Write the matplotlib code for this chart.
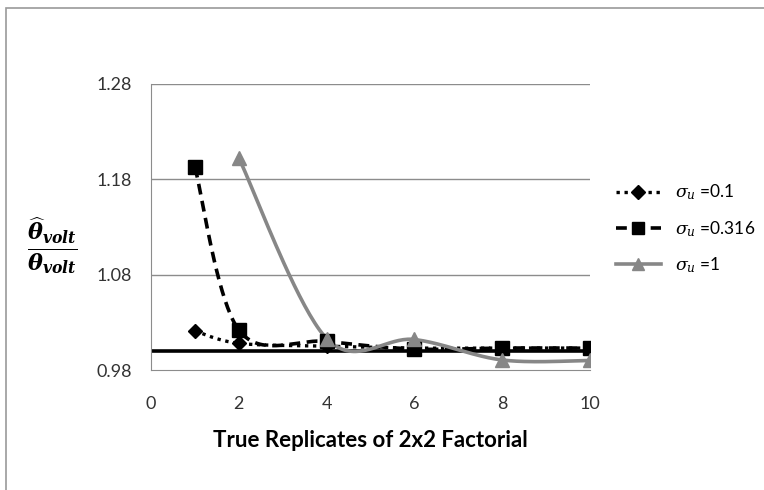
import matplotlib

matplotlib.use("Agg")

import matplotlib.pyplot as plt
import numpy as np
from matplotlib.lines import Line2D
from matplotlib.patches import Rectangle

# replicate counts and estimated ratio for each sigma_u
reps_01 = [1, 2, 4, 6, 8, 10]
ratio_01 = [1.021, 1.008, 1.005, 1.003, 1.003, 1.003]

reps_0316 = [1, 2, 4, 6, 8, 10]
ratio_0316 = [1.193, 1.022, 1.010, 1.002, 1.003, 1.003]

reps_1 = [2, 4, 6, 8, 10]
ratio_1 = [1.2025, 1.013, 1.012, 0.9905, 0.990]

x_ticks = [0, 2, 4, 6, 8, 10]
y_ticks = [0.98, 1.08, 1.18, 1.28]
reference = 1.0


def smooth(xs, ys, n=40):
    # cubic Bezier through the points, Catmull-Rom style control points
    p = np.column_stack([xs, ys]).astype(float)
    pts = np.vstack([p[0], p, p[-1]])
    out = []
    for i in range(1, len(pts) - 2):
        p0, p1, p2, p3 = pts[i - 1], pts[i], pts[i + 1], pts[i + 2]
        c1 = p1 + (p2 - p0) / 6.0
        c2 = p2 - (p3 - p1) / 6.0
        t = np.linspace(0, 1, n)[:, None]
        seg = ((1 - t) ** 3) * p1 + 3 * ((1 - t) ** 2) * t * c1 + 3 * (1 - t) * t ** 2 * c2 + t ** 3 * p2
        out.append(seg if i == 1 else seg[1:])
    curve = np.vstack(out)
    return curve[:, 0], curve[:, 1]


plt.rcParams["font.family"] = ["Lato", "DejaVu Sans"]
plt.rcParams["mathtext.fontset"] = "dejavuserif"

fig = plt.figure(figsize=(7.64, 4.90), dpi=100)
W, H = 764.0, 490.0
ax = fig.add_axes([151 / W, 1 - 370 / H, (590 - 151) / W, (370 - 84) / H])

grid_c = "#8c8c8c"
ax.set_xlim(0, 10)
ax.set_ylim(0.98, 1.28)
ax.set_xticks(x_ticks)
ax.set_yticks(y_ticks)
ax.set_yticklabels([f"{v:.2f}" for v in y_ticks])
ax.tick_params(length=0, labelsize=13, labelcolor="#333333")
ax.tick_params(axis="x", pad=19)
ax.tick_params(axis="y", pad=14)
for v in y_ticks[1:]:
    ax.axhline(v, color=grid_c, lw=1.0, zorder=1)
for side in ["top", "right"]:
    ax.spines[side].set_visible(False)
ax.spines["left"].set_color(grid_c)
ax.spines["bottom"].set_color(grid_c)

ax.axhline(reference, color="black", lw=2.6, zorder=2)

grey = "#878787"
x, y = smooth(reps_01, ratio_01)
ax.plot(x, y, color="black", lw=2.4, linestyle=(0, (1, 1.4)), zorder=3)
ax.plot(reps_01, ratio_01, linestyle="none", marker="D", ms=7, color="black", zorder=5)

x, y = smooth(reps_0316, ratio_0316)
ax.plot(x, y, color="black", lw=2.6, linestyle=(0, (3, 1.8)), zorder=3)
ax.plot(reps_0316, ratio_0316, linestyle="none", marker="s", ms=10, color="black", zorder=5)

x, y = smooth(reps_1, ratio_1)
ax.plot(x, y, color=grey, lw=2.6, zorder=4)
ax.plot(reps_1, ratio_1, linestyle="none", marker="^", ms=10, color=grey, zorder=6)

ax.set_xlabel("True Replicates of 2x2 Factorial", fontsize=16, fontweight="bold", labelpad=13)

fig.text(52 / W, 1 - 246 / H,
         r"$\frac{\widehat{\boldsymbol{\theta}}_{\boldsymbol{volt}}}{\boldsymbol{\theta}_{\boldsymbol{volt}}}$",
         fontsize=23, ha="center", va="center")

handles = [
    Line2D([], [], color="black", lw=2.4, linestyle=(0, (1, 1.4)), marker="D", ms=7),
    Line2D([], [], color="black", lw=2.6, linestyle=(0, (3, 1.8)), marker="s", ms=9),
    Line2D([], [], color=grey, lw=2.6, marker="^", ms=9),
]
labels = [r"$\sigma_u$ =0.1", r"$\sigma_u$ =0.316", r"$\sigma_u$ =1"]
fig.legend(handles, labels, loc="upper left", bbox_to_anchor=(600 / W, 1 - 167 / H),
           frameon=False, fontsize=12.5, handlelength=2.6, handletextpad=0.8,
           labelspacing=0.95)

fig.patches.append(Rectangle((6 / W, -0.02), 1.0, 1 - 8 / H + 0.02, transform=fig.transFigure,
                             fill=False, edgecolor="#9a9a9a", lw=1.2))

fig.savefig("out.png", dpi=100)
